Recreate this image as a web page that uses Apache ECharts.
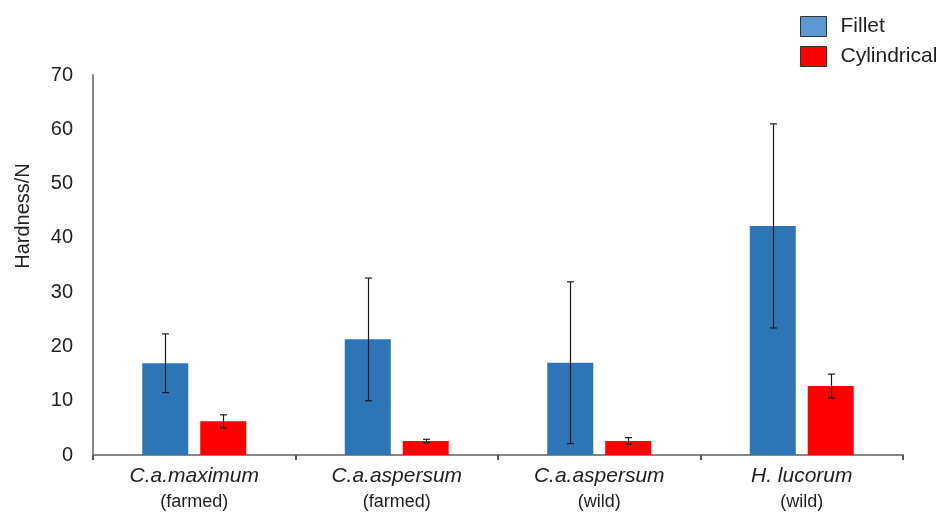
<!DOCTYPE html>
<html>
<head>
<meta charset="utf-8">
<script src="https://cdn.jsdelivr.net/npm/echarts@6/dist/echarts.min.js"></script>
<style>html,body{margin:0;padding:0;background:#fff;}#c{width:941px;height:512px;}</style>
</head>
<body>
<div id="c"></div>
<script>
const species = ['C.a.maximum', 'C.a.aspersum', 'C.a.aspersum', 'H. lucorum'];
const origin = ['(farmed)', '(farmed)', '(wild)', '(wild)'];
const filletMean = [16.9, 21.3, 17.0, 42.2];
const filletErr = [5.4, 11.3, 14.9, 18.8];
const cylMean = [6.2, 2.6, 2.6, 12.7];
const cylErr = [1.2, 0.3, 0.6, 2.2];
const yTicks = [0, 10, 20, 30, 40, 50, 60, 70];

const categories = species.map((s, i) => s + '\n' + origin[i]);
const BAR_W = 46;
const BAR_GAP = 0.26;
const TEXT = '#1f1f1f';
const FONT = 'Liberation Sans, Arial, sans-serif';

function errData(mean, err) {
  return mean.map((m, i) => [i, m - err[i], m + err[i]]);
}
function errSeries(name, mean, err, side) {
  return {
    type: 'custom',
    name: name,
    data: errData(mean, err),
    encode: { x: 0, y: [1, 2] },
    z: 5,
    silent: true,
    renderItem: function (params, api) {
      const off = side * BAR_W * (1 + BAR_GAP) / 2;
      const lo = api.coord([api.value(0), api.value(1)]);
      const hi = api.coord([api.value(0), api.value(2)]);
      const x = Math.round(lo[0] + off) + 0.5;
      const cap = 3.5;
      const st = { stroke: '#1a1a1a', lineWidth: 1.2 };
      return {
        type: 'group',
        children: [
          { type: 'line', shape: { x1: x, y1: lo[1], x2: x, y2: hi[1] }, style: st },
          { type: 'line', shape: { x1: x - cap, y1: hi[1], x2: x + cap, y2: hi[1] }, style: st },
          { type: 'line', shape: { x1: x - cap, y1: lo[1], x2: x + cap, y2: lo[1] }, style: st }
        ]
      };
    }
  };
}

const chart = echarts.init(document.getElementById('c'));
chart.setOption({
  animation: false,
  backgroundColor: '#fff',
  textStyle: { fontFamily: FONT },
  grid: { left: 93, right: 38, top: 75, bottom: 57, containLabel: false },
  legend: {
    orient: 'vertical',
    left: 800,
    top: 16,
    padding: 0,
    itemWidth: 26,
    itemHeight: 20,
    itemGap: 9,
    textStyle: { fontSize: 21, color: TEXT, fontFamily: FONT, padding: [0, 0, 0, 9], lineHeight: 20 },
    data: [
      { name: 'Fillet', icon: 'rect', itemStyle: { color: '#5B9BD5', borderColor: '#333', borderWidth: 1 } },
      { name: 'Cylindrical', icon: 'rect', itemStyle: { color: '#FF0000', borderColor: '#333', borderWidth: 1 } }
    ]
  },
  xAxis: {
    type: 'category',
    data: categories,
    axisLine: { lineStyle: { color: '#868686', width: 2 } },
    axisTick: { show: true, length: 5, lineStyle: { color: '#555', width: 2 } },
    axisLabel: {
      margin: 8,
      interval: 0,
      formatter: function (v) {
        const p = v.split('\n');
        return '{a|' + p[0] + '}\n{b|' + p[1] + '}';
      },
      rich: {
        a: { fontSize: 21, fontStyle: 'italic', color: TEXT, fontFamily: FONT, lineHeight: 26 },
        b: { fontSize: 18, color: TEXT, fontFamily: FONT, lineHeight: 26 }
      }
    }
  },
  yAxis: {
    type: 'value',
    min: yTicks[0],
    max: yTicks[yTicks.length - 1],
    interval: yTicks[1] - yTicks[0],
    name: 'Hardness/N',
    nameLocation: 'middle',
    nameGap: 60,
    nameTextStyle: { fontSize: 20, color: TEXT, fontFamily: FONT, padding: [0, 0, 0, 98] },
    axisLine: { show: true, lineStyle: { color: '#868686', width: 2 } },
    axisTick: { show: false },
    splitLine: { show: false },
    axisLabel: { fontSize: 20, color: TEXT, fontFamily: FONT, margin: 20 }
  },
  series: [
    { name: 'Fillet', type: 'bar', data: filletMean, barWidth: BAR_W, barGap: (BAR_GAP * 100) + '%',
      itemStyle: { color: '#2E75B6' } },
    { name: 'Cylindrical', type: 'bar', data: cylMean, barWidth: BAR_W, barGap: (BAR_GAP * 100) + '%',
      itemStyle: { color: '#FF0000' } },
    errSeries('FilletErr', filletMean, filletErr, -1),
    errSeries('CylErr', cylMean, cylErr, 1)
  ]
});
</script>
</body>
</html>
